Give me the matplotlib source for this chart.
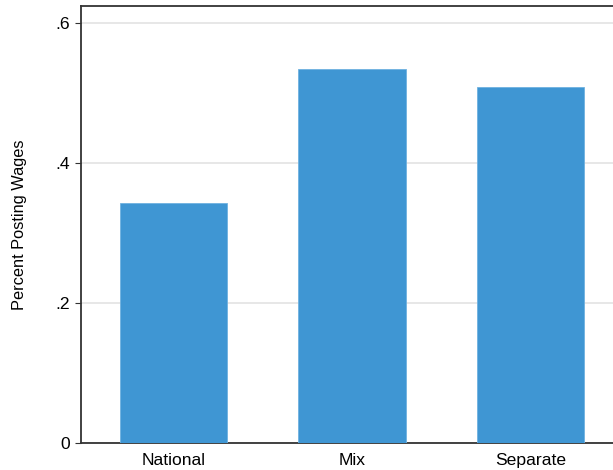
import matplotlib
matplotlib.use("Agg")
import matplotlib.pyplot as plt

plt.rcParams["font.family"] = ["Liberation Sans", "DejaVu Sans"]

# data
groups = ["National", "Mix", "Separate"]
share_posting = [0.343, 0.534, 0.509]
ytick_vals = [0, 0.2, 0.4, 0.6]
ytick_labels = ["0", ".2", ".4", ".6"]

W, H = 613, 470
fig = plt.figure(figsize=(W / 100, H / 100), dpi=100)
# plot box: left 81, right ~623 (cut by image edge), top 6, bottom 443
ax = fig.add_axes([81 / W, (H - 443) / H, (623 - 81) / W, (443 - 6) / H])

x = range(len(groups))
ax.bar(x, share_posting, width=0.6, color="#3f96d3", edgecolor="#6fb2e0",
       linewidth=0.6, zorder=3)

ax.set_xlim(-0.518, len(groups) - 1 + 0.518)
ax.set_ylim(0, 0.6243)
ax.set_yticks(ytick_vals)
ax.set_yticklabels(ytick_labels)
ax.set_xticks(list(x))
ax.set_xticklabels(groups)
ax.tick_params(axis="x", length=0, labelsize=12.6, pad=7)
ax.tick_params(axis="y", length=4, width=0.8, labelsize=12.6, pad=4, color="#333333")
ax.grid(axis="y", color="#e3e3e3", linewidth=1.2, zorder=0)

for side in ["left", "bottom", "top", "right"]:
    ax.spines[side].set_color("#333333")
    ax.spines[side].set_linewidth(1.3)

ax.set_ylabel("Percent Posting Wages", fontsize=11.8, labelpad=20)

fig.savefig("out.png", dpi=100)
